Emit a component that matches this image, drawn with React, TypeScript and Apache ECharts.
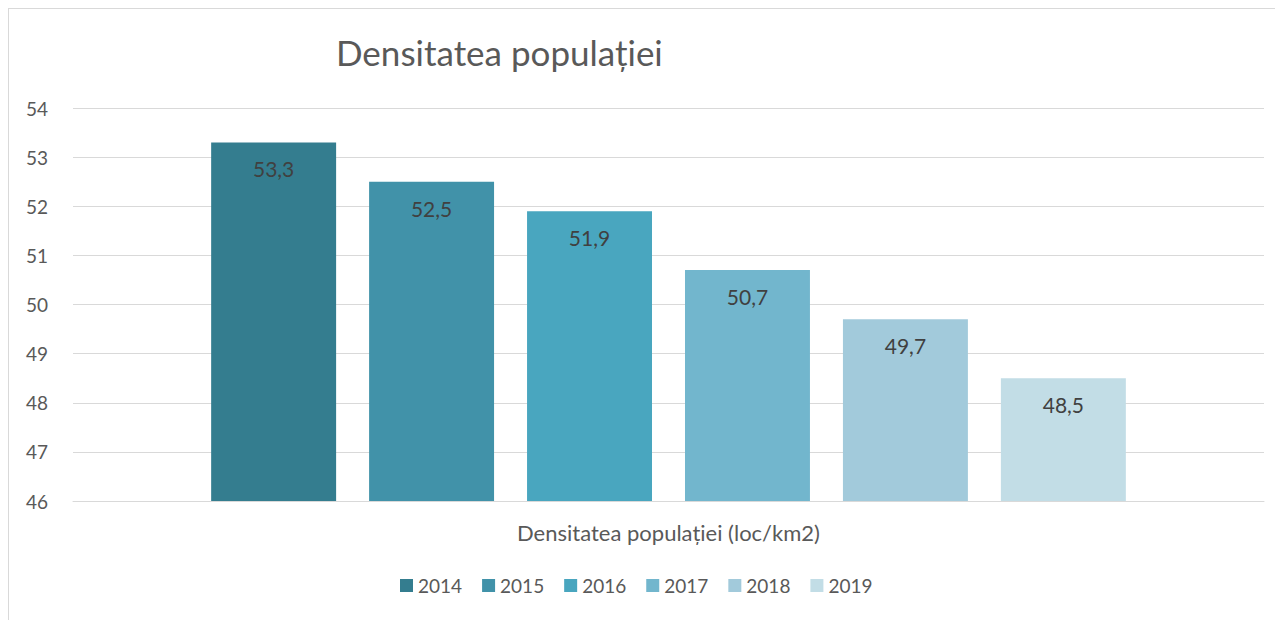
import React, { useEffect, useRef } from "react";
import * as echarts from "echarts";

const category = ["Densitatea populației (loc/km2)"];
const years = ["2014", "2015", "2016", "2017", "2018", "2019"];
const values = [53.3, 52.5, 51.9, 50.7, 49.7, 48.5];
const colors = ["#347d8f", "#4192a9", "#49a6bf", "#72b6cd", "#a2cadb", "#c2dde6"];
const yMin = 46;
const yMax = 54;

const FONT = "Lato";

export default function App() {
  const ref = useRef<HTMLDivElement>(null);
  useEffect(() => {
    if (!ref.current) return;
    const chart = echarts.init(ref.current, undefined, { renderer: "svg" });
    chart.setOption({
      animation: false,
      backgroundColor: "#ffffff",
      title: {
        text: "Densitatea populației",
        left: 322,
        top: 20,
        textStyle: { fontFamily: FONT, fontSize: 35, fontWeight: "normal", color: "#595959" },
      },
      legend: {
        left: 386,
        top: 562,
        itemWidth: 13,
        itemHeight: 13,
        itemGap: 20,
        icon: "rect",
        textStyle: { fontFamily: FONT, fontSize: 19, color: "#595959" },
        data: years,
      },
      grid: { left: 64, right: 19, top: 99, bottom: 119, containLabel: false },
      xAxis: {
        type: "category",
        data: category,
        axisLine: { show: true, lineStyle: { color: "#d9d9d9", width: 1 } },
        axisTick: { show: false },
        axisLabel: { fontFamily: FONT, fontSize: 22, color: "#595959", margin: 20 },
      },
      yAxis: {
        type: "value",
        min: yMin,
        max: yMax,
        interval: 1,
        axisLine: { show: false },
        axisTick: { show: false },
        splitLine: { lineStyle: { color: "#d9d9d9", width: 1 } },
        axisLabel: { fontFamily: FONT, fontSize: 19, color: "#595959", margin: 25 },
      },
      series: years.map((y, i) => ({
        name: y,
        type: "bar",
        data: [values[i]],
        barGap: "26.4%",
        barCategoryGap: "23.2%",
        itemStyle: { color: colors[i] },
        label: {
          show: true,
          position: "insideTop",
          distance: 16,
          formatter: (p: any) => String(p.value).replace(".", ","),
          fontFamily: FONT,
          fontSize: 21,
          color: "#404040",
        },
      })),
    });
    return () => chart.dispose();
  }, []);
  return (
    <div
      style={{
        width: 1275,
        height: 612,
        borderLeft: "1px solid #d9d9d9",
        borderTop: "1px solid #d9d9d9",
        boxSizing: "border-box",
        overflow: "hidden",
      }}
    >
      <div ref={ref} style={{ width: 1274, height: 611 }} />
    </div>
  );
}
